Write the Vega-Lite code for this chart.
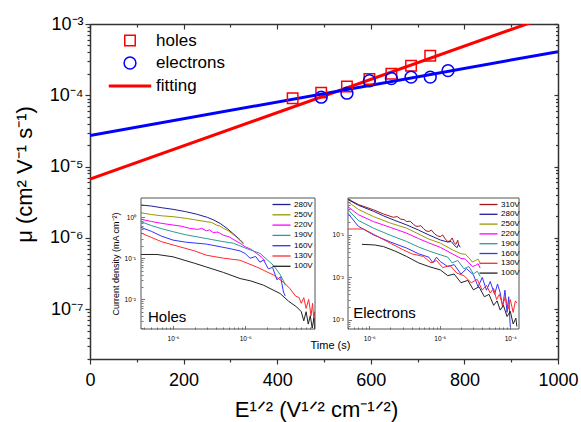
{
  "$schema": "https://vega.github.io/schema/vega-lite/v6.json",
  "width": 468,
  "height": 335,
  "autosize": "none",
  "padding": {"left": 90, "top": 24, "right": 23, "bottom": 63},
  "background": "white",
  "config": {
    "font": "Liberation Sans",
    "view": {"stroke": null},
    "axis": {"grid": false, "labelFont": "Liberation Sans", "titleFont": "Liberation Sans", "labelColor": "#000", "titleColor": "#000", "domainColor": "#333", "tickColor": "#333"}
  },
  "datasets": {
    "fit": [
      {"s": "holes", "x": 0, "y": 6.7e-6},
      {"s": "holes", "x": 1000, "y": 1.43e-3},
      {"s": "electrons", "x": 0, "y": 2.72e-5},
      {"s": "electrons", "x": 1000, "y": 4.1e-4}
    ],
    "mob": [
      {"s": "holes", "x": 433, "y": 9.1e-5},
      {"s": "holes", "x": 494, "y": 1.09e-4},
      {"s": "holes", "x": 549, "y": 1.33e-4},
      {"s": "holes", "x": 597, "y": 1.69e-4},
      {"s": "holes", "x": 644, "y": 2.0e-4},
      {"s": "holes", "x": 686, "y": 2.59e-4},
      {"s": "holes", "x": 727, "y": 3.6e-4},
      {"s": "electrons", "x": 494, "y": 9.4e-5},
      {"s": "electrons", "x": 549, "y": 1.07e-4},
      {"s": "electrons", "x": 597, "y": 1.6e-4},
      {"s": "electrons", "x": 644, "y": 1.72e-4},
      {"s": "electrons", "x": 686, "y": 1.8e-4},
      {"s": "electrons", "x": 727, "y": 1.8e-4},
      {"s": "electrons", "x": 765, "y": 2.22e-4}
    ],
    "holes": [
      {"v": "280V", "t": 3.6e-7, "j": 1.96}, {"v": "280V", "t": 5e-7, "j": 1.85}, {"v": "280V", "t": 7e-7, "j": 1.68}, {"v": "280V", "t": 1e-6, "j": 1.54}, {"v": "280V", "t": 1.5e-6, "j": 1.35}, {"v": "280V", "t": 2.1e-6, "j": 1.18}, {"v": "280V", "t": 3e-6, "j": 0.98}, {"v": "280V", "t": 3.6e-6, "j": 0.86}, {"v": "280V", "t": 4.5e-6, "j": 0.7}, {"v": "280V", "t": 5.6e-6, "j": 0.53}, {"v": "280V", "t": 7e-6, "j": 0.38}, {"v": "280V", "t": 8.5e-6, "j": 0.28}, {"v": "280V", "t": 9.5e-6, "j": 0.23},
      {"v": "250V", "t": 3.6e-7, "j": 1.27}, {"v": "250V", "t": 5e-7, "j": 1.15}, {"v": "250V", "t": 7e-7, "j": 1.07}, {"v": "250V", "t": 1e-6, "j": 1.02}, {"v": "250V", "t": 1.5e-6, "j": 0.93}, {"v": "250V", "t": 2e-6, "j": 0.86}, {"v": "250V", "t": 2.9e-6, "j": 0.77}, {"v": "250V", "t": 3.4e-6, "j": 0.74}, {"v": "250V", "t": 4e-6, "j": 0.64}, {"v": "250V", "t": 4.5e-6, "j": 0.6}, {"v": "250V", "t": 5e-6, "j": 0.53}, {"v": "250V", "t": 5.8e-6, "j": 0.47}, {"v": "250V", "t": 6.5e-6, "j": 0.4}, {"v": "250V", "t": 7.5e-6, "j": 0.33}, {"v": "250V", "t": 8.5e-6, "j": 0.27}, {"v": "250V", "t": 9.5e-6, "j": 0.22},
      {"v": "220V", "t": 3.6e-7, "j": 0.88}, {"v": "220V", "t": 5e-7, "j": 0.78}, {"v": "220V", "t": 7e-7, "j": 0.7}, {"v": "220V", "t": 1e-6, "j": 0.64}, {"v": "220V", "t": 1.3e-6, "j": 0.6}, {"v": "220V", "t": 1.7e-6, "j": 0.53}, {"v": "220V", "t": 2.2e-6, "j": 0.5}, {"v": "220V", "t": 2.5e-6, "j": 0.53}, {"v": "220V", "t": 2.9e-6, "j": 0.46}, {"v": "220V", "t": 3.2e-6, "j": 0.49}, {"v": "220V", "t": 3.6e-6, "j": 0.42}, {"v": "220V", "t": 4.2e-6, "j": 0.43}, {"v": "220V", "t": 5e-6, "j": 0.36}, {"v": "220V", "t": 6e-6, "j": 0.33}, {"v": "220V", "t": 7e-6, "j": 0.28}, {"v": "220V", "t": 8.5e-6, "j": 0.23}, {"v": "220V", "t": 1e-5, "j": 0.19}, {"v": "220V", "t": 1.2e-5, "j": 0.165}, {"v": "220V", "t": 1.45e-5, "j": 0.13}, {"v": "220V", "t": 1.7e-5, "j": 0.105}, {"v": "220V", "t": 1.9e-5, "j": 0.085},
      {"v": "190V", "t": 3.6e-7, "j": 0.77}, {"v": "190V", "t": 5e-7, "j": 0.62}, {"v": "190V", "t": 7e-7, "j": 0.52}, {"v": "190V", "t": 1e-6, "j": 0.44}, {"v": "190V", "t": 1.5e-6, "j": 0.37}, {"v": "190V", "t": 2.9e-6, "j": 0.3}, {"v": "190V", "t": 4.5e-6, "j": 0.26}, {"v": "190V", "t": 6.9e-6, "j": 0.23}, {"v": "190V", "t": 1.06e-5, "j": 0.17}, {"v": "190V", "t": 1.62e-5, "j": 0.13}, {"v": "190V", "t": 2.47e-5, "j": 0.067}, {"v": "190V", "t": 3.06e-5, "j": 0.04}, {"v": "190V", "t": 3.4e-5, "j": 0.028}, {"v": "190V", "t": 3.6e-5, "j": 0.022},
      {"v": "160V", "t": 3.6e-7, "j": 0.56}, {"v": "160V", "t": 5e-7, "j": 0.45}, {"v": "160V", "t": 7e-7, "j": 0.34}, {"v": "160V", "t": 1e-6, "j": 0.275}, {"v": "160V", "t": 1.5e-6, "j": 0.245}, {"v": "160V", "t": 2.9e-6, "j": 0.22}, {"v": "160V", "t": 4.5e-6, "j": 0.19}, {"v": "160V", "t": 6.2e-6, "j": 0.17}, {"v": "160V", "t": 8.5e-6, "j": 0.15}, {"v": "160V", "t": 1e-5, "j": 0.13}, {"v": "160V", "t": 1.17e-5, "j": 0.1}, {"v": "160V", "t": 1.4e-5, "j": 0.11}, {"v": "160V", "t": 1.6e-5, "j": 0.08}, {"v": "160V", "t": 1.8e-5, "j": 0.09}, {"v": "160V", "t": 2.1e-5, "j": 0.055}, {"v": "160V", "t": 2.4e-5, "j": 0.06}, {"v": "160V", "t": 2.75e-5, "j": 0.03}, {"v": "160V", "t": 3.1e-5, "j": 0.035}, {"v": "160V", "t": 3.4e-5, "j": 0.015}, {"v": "160V", "t": 3.6e-5, "j": 0.012},
      {"v": "130V", "t": 3.6e-7, "j": 0.41}, {"v": "130V", "t": 5e-7, "j": 0.32}, {"v": "130V", "t": 7e-7, "j": 0.25}, {"v": "130V", "t": 1e-6, "j": 0.21}, {"v": "130V", "t": 2e-6, "j": 0.15}, {"v": "130V", "t": 2.9e-6, "j": 0.118}, {"v": "130V", "t": 5e-6, "j": 0.1}, {"v": "130V", "t": 8.5e-6, "j": 0.089}, {"v": "130V", "t": 1.45e-5, "j": 0.061}, {"v": "130V", "t": 2.47e-5, "j": 0.039}, {"v": "130V", "t": 3.5e-5, "j": 0.025}, {"v": "130V", "t": 4.2e-5, "j": 0.018}, {"v": "130V", "t": 5e-5, "j": 0.012}, {"v": "130V", "t": 5.6e-5, "j": 0.011}, {"v": "130V", "t": 6e-5, "j": 0.008}, {"v": "130V", "t": 6.5e-5, "j": 0.011}, {"v": "130V", "t": 7e-5, "j": 0.006}, {"v": "130V", "t": 7.6e-5, "j": 0.01}, {"v": "130V", "t": 8.2e-5, "j": 0.004}, {"v": "130V", "t": 8.6e-5, "j": 0.008}, {"v": "130V", "t": 9e-5, "j": 0.003}, {"v": "130V", "t": 9.2e-5, "j": 0.005},
      {"v": "100V", "t": 3.6e-7, "j": 0.123}, {"v": "100V", "t": 6e-7, "j": 0.123}, {"v": "100V", "t": 1e-6, "j": 0.108}, {"v": "100V", "t": 2e-6, "j": 0.075}, {"v": "100V", "t": 2.9e-6, "j": 0.061}, {"v": "100V", "t": 5e-6, "j": 0.045}, {"v": "100V", "t": 8.5e-6, "j": 0.032}, {"v": "100V", "t": 1.2e-5, "j": 0.028}, {"v": "100V", "t": 1.8e-5, "j": 0.022}, {"v": "100V", "t": 3.06e-5, "j": 0.0138}, {"v": "100V", "t": 4e-5, "j": 0.009}, {"v": "100V", "t": 5.2e-5, "j": 0.0065}, {"v": "100V", "t": 6e-5, "j": 0.005}, {"v": "100V", "t": 6.5e-5, "j": 0.003}, {"v": "100V", "t": 7e-5, "j": 0.005}, {"v": "100V", "t": 7.5e-5, "j": 0.0025}, {"v": "100V", "t": 8e-5, "j": 0.004}, {"v": "100V", "t": 8.5e-5, "j": 0.002}, {"v": "100V", "t": 9e-5, "j": 0.0035}, {"v": "100V", "t": 9.2e-5, "j": 0.002}
    ],
    "elec": [
      {"v": "310V", "t": 5e-7, "j": 0.7}, {"v": "310V", "t": 7e-7, "j": 0.52}, {"v": "310V", "t": 1.15e-6, "j": 0.39}, {"v": "310V", "t": 1.6e-6, "j": 0.31}, {"v": "310V", "t": 2.2e-6, "j": 0.26}, {"v": "310V", "t": 2.5e-6, "j": 0.27}, {"v": "310V", "t": 2.8e-6, "j": 0.235}, {"v": "310V", "t": 3.1e-6, "j": 0.23}, {"v": "310V", "t": 3.4e-6, "j": 0.206}, {"v": "310V", "t": 3.8e-6, "j": 0.21}, {"v": "310V", "t": 4.2e-6, "j": 0.18}, {"v": "310V", "t": 4.6e-6, "j": 0.16}, {"v": "310V", "t": 5e-6, "j": 0.16}, {"v": "310V", "t": 5.4e-6, "j": 0.165}, {"v": "310V", "t": 5.9e-6, "j": 0.14}, {"v": "310V", "t": 6.4e-6, "j": 0.125}, {"v": "310V", "t": 7e-6, "j": 0.12}, {"v": "310V", "t": 7.6e-6, "j": 0.13}, {"v": "310V", "t": 8.5e-6, "j": 0.105}, {"v": "310V", "t": 9.3e-6, "j": 0.095}, {"v": "310V", "t": 1.02e-5, "j": 0.091}, {"v": "310V", "t": 1.1e-5, "j": 0.1}, {"v": "310V", "t": 1.2e-5, "j": 0.08}, {"v": "310V", "t": 1.3e-5, "j": 0.07}, {"v": "310V", "t": 1.4e-5, "j": 0.072}, {"v": "310V", "t": 1.5e-5, "j": 0.085}, {"v": "310V", "t": 1.6e-5, "j": 0.065}, {"v": "310V", "t": 1.7e-5, "j": 0.06}, {"v": "310V", "t": 1.8e-5, "j": 0.075}, {"v": "310V", "t": 1.85e-5, "j": 0.058},
      {"v": "280V", "t": 5e-7, "j": 0.68}, {"v": "280V", "t": 7e-7, "j": 0.5}, {"v": "280V", "t": 1.15e-6, "j": 0.36}, {"v": "280V", "t": 1.6e-6, "j": 0.28}, {"v": "280V", "t": 2.3e-6, "j": 0.22}, {"v": "280V", "t": 3.4e-6, "j": 0.172}, {"v": "280V", "t": 5e-6, "j": 0.13}, {"v": "280V", "t": 7e-6, "j": 0.1}, {"v": "280V", "t": 1.02e-5, "j": 0.076}, {"v": "280V", "t": 1.3e-5, "j": 0.068}, {"v": "280V", "t": 1.45e-5, "j": 0.07}, {"v": "280V", "t": 1.6e-5, "j": 0.058}, {"v": "280V", "t": 1.75e-5, "j": 0.05}, {"v": "280V", "t": 1.85e-5, "j": 0.06}, {"v": "280V", "t": 1.95e-5, "j": 0.051},
      {"v": "250V", "t": 5e-7, "j": 0.6}, {"v": "250V", "t": 7e-7, "j": 0.4}, {"v": "250V", "t": 1.15e-6, "j": 0.27}, {"v": "250V", "t": 2e-6, "j": 0.19}, {"v": "250V", "t": 3.4e-6, "j": 0.144}, {"v": "250V", "t": 5e-6, "j": 0.105}, {"v": "250V", "t": 7e-6, "j": 0.08}, {"v": "250V", "t": 1.02e-5, "j": 0.064}, {"v": "250V", "t": 1.5e-5, "j": 0.045}, {"v": "250V", "t": 2e-5, "j": 0.036}, {"v": "250V", "t": 2.3e-5, "j": 0.035}, {"v": "250V", "t": 2.6e-5, "j": 0.029}, {"v": "250V", "t": 2.9e-5, "j": 0.023}, {"v": "250V", "t": 3.2e-5, "j": 0.025}, {"v": "250V", "t": 3.5e-5, "j": 0.027}, {"v": "250V", "t": 3.75e-5, "j": 0.0215},
      {"v": "220V", "t": 5e-7, "j": 0.46}, {"v": "220V", "t": 7e-7, "j": 0.3}, {"v": "220V", "t": 1.15e-6, "j": 0.206}, {"v": "220V", "t": 2e-6, "j": 0.15}, {"v": "220V", "t": 3.4e-6, "j": 0.11}, {"v": "220V", "t": 5e-6, "j": 0.082}, {"v": "220V", "t": 7e-6, "j": 0.065}, {"v": "220V", "t": 1.02e-5, "j": 0.051}, {"v": "220V", "t": 1.5e-5, "j": 0.036}, {"v": "220V", "t": 2e-5, "j": 0.028}, {"v": "220V", "t": 2.3e-5, "j": 0.027}, {"v": "220V", "t": 2.6e-5, "j": 0.022}, {"v": "220V", "t": 2.9e-5, "j": 0.018}, {"v": "220V", "t": 3.2e-5, "j": 0.019}, {"v": "220V", "t": 3.5e-5, "j": 0.021}, {"v": "220V", "t": 3.75e-5, "j": 0.0166},
      {"v": "190V", "t": 5e-7, "j": 0.39}, {"v": "190V", "t": 7e-7, "j": 0.22}, {"v": "190V", "t": 1.15e-6, "j": 0.144}, {"v": "190V", "t": 2e-6, "j": 0.098}, {"v": "190V", "t": 3.4e-6, "j": 0.07}, {"v": "190V", "t": 5e-6, "j": 0.052}, {"v": "190V", "t": 7e-6, "j": 0.042}, {"v": "190V", "t": 1.02e-5, "j": 0.034}, {"v": "190V", "t": 1.3e-5, "j": 0.03}, {"v": "190V", "t": 1.5e-5, "j": 0.022}, {"v": "190V", "t": 1.8e-5, "j": 0.025}, {"v": "190V", "t": 2.2e-5, "j": 0.016}, {"v": "190V", "t": 2.6e-5, "j": 0.018}, {"v": "190V", "t": 3e-5, "j": 0.012}, {"v": "190V", "t": 3.4e-5, "j": 0.014}, {"v": "190V", "t": 3.75e-5, "j": 0.0105},
      {"v": "160V", "t": 5e-7, "j": 0.32}, {"v": "160V", "t": 7e-7, "j": 0.16}, {"v": "160V", "t": 1.15e-6, "j": 0.1}, {"v": "160V", "t": 2e-6, "j": 0.068}, {"v": "160V", "t": 3.4e-6, "j": 0.049}, {"v": "160V", "t": 5e-6, "j": 0.036}, {"v": "160V", "t": 7e-6, "j": 0.03}, {"v": "160V", "t": 8e-6, "j": 0.022}, {"v": "160V", "t": 9e-6, "j": 0.03}, {"v": "160V", "t": 1.02e-5, "j": 0.0235}, {"v": "160V", "t": 1.3e-5, "j": 0.018}, {"v": "160V", "t": 1.6e-5, "j": 0.02}, {"v": "160V", "t": 2e-5, "j": 0.012}, {"v": "160V", "t": 2.4e-5, "j": 0.016}, {"v": "160V", "t": 3e-5, "j": 0.0115}, {"v": "160V", "t": 3.5e-5, "j": 0.006}, {"v": "160V", "t": 4e-5, "j": 0.01}, {"v": "160V", "t": 4.6e-5, "j": 0.005}, {"v": "160V", "t": 5.2e-5, "j": 0.008}, {"v": "160V", "t": 6e-5, "j": 0.004}, {"v": "160V", "t": 6.6e-5, "j": 0.007}, {"v": "160V", "t": 7.2e-5, "j": 0.0043}, {"v": "160V", "t": 7.8e-5, "j": 0.002}, {"v": "160V", "t": 8.4e-5, "j": 0.005}, {"v": "160V", "t": 9e-5, "j": 0.0015}, {"v": "160V", "t": 9.5e-5, "j": 0.0035}, {"v": "160V", "t": 1e-4, "j": 0.0007},
      {"v": "130V", "t": 5e-7, "j": 0.138}, {"v": "130V", "t": 8.3e-7, "j": 0.138}, {"v": "130V", "t": 1.2e-6, "j": 0.1}, {"v": "130V", "t": 1.99e-6, "j": 0.064}, {"v": "130V", "t": 3e-6, "j": 0.045}, {"v": "130V", "t": 4e-6, "j": 0.036}, {"v": "130V", "t": 5.9e-6, "j": 0.031}, {"v": "130V", "t": 7.5e-6, "j": 0.022}, {"v": "130V", "t": 9e-6, "j": 0.025}, {"v": "130V", "t": 1.1e-5, "j": 0.017}, {"v": "130V", "t": 1.4e-5, "j": 0.019}, {"v": "130V", "t": 1.75e-5, "j": 0.0126}, {"v": "130V", "t": 2.2e-5, "j": 0.011}, {"v": "130V", "t": 2.8e-5, "j": 0.0075}, {"v": "130V", "t": 3.4e-5, "j": 0.009}, {"v": "130V", "t": 4e-5, "j": 0.005}, {"v": "130V", "t": 4.6e-5, "j": 0.0065}, {"v": "130V", "t": 5.2e-5, "j": 0.0043}, {"v": "130V", "t": 5.8e-5, "j": 0.0055}, {"v": "130V", "t": 6.4e-5, "j": 0.003}, {"v": "130V", "t": 7e-5, "j": 0.004}, {"v": "130V", "t": 7.8e-5, "j": 0.0022}, {"v": "130V", "t": 8.5e-5, "j": 0.0035}, {"v": "130V", "t": 9.3e-5, "j": 0.0018}, {"v": "130V", "t": 1e-4, "j": 0.003}, {"v": "130V", "t": 1.1e-4, "j": 0.0015}, {"v": "130V", "t": 1.18e-4, "j": 0.0028}, {"v": "130V", "t": 1.24e-4, "j": 0.0025},
      {"v": "100V", "t": 7.9e-7, "j": 0.06}, {"v": "100V", "t": 1.2e-6, "j": 0.058}, {"v": "100V", "t": 1.6e-6, "j": 0.053}, {"v": "100V", "t": 2.3e-6, "j": 0.042}, {"v": "100V", "t": 3.4e-6, "j": 0.031}, {"v": "100V", "t": 5e-6, "j": 0.022}, {"v": "100V", "t": 7e-6, "j": 0.018}, {"v": "100V", "t": 1.02e-5, "j": 0.015}, {"v": "100V", "t": 1.3e-5, "j": 0.011}, {"v": "100V", "t": 1.6e-5, "j": 0.012}, {"v": "100V", "t": 2e-5, "j": 0.0075}, {"v": "100V", "t": 2.5e-5, "j": 0.0085}, {"v": "100V", "t": 3e-5, "j": 0.0051}, {"v": "100V", "t": 3.6e-5, "j": 0.006}, {"v": "100V", "t": 4.3e-5, "j": 0.0035}, {"v": "100V", "t": 5e-5, "j": 0.004}, {"v": "100V", "t": 5.8e-5, "j": 0.0022}, {"v": "100V", "t": 6.5e-5, "j": 0.0028}, {"v": "100V", "t": 7.2e-5, "j": 0.0017}, {"v": "100V", "t": 8e-5, "j": 0.0022}, {"v": "100V", "t": 9e-5, "j": 0.0012}, {"v": "100V", "t": 1e-4, "j": 0.0016}, {"v": "100V", "t": 1.1e-4, "j": 0.0008}, {"v": "100V", "t": 1.2e-4, "j": 0.0011}, {"v": "100V", "t": 1.24e-4, "j": 0.0007}
    ]
  },
  "layer": [
    {
      "layer": [
        {
          "data": {"name": "fit"},
          "mark": {"type": "line", "clip": true, "strokeWidth": 3},
          "encoding": {
            "x": {"field": "x", "type": "quantitative", "scale": {"domain": [0, 1000], "nice": false, "zero": false},
              "axis": {"orient": "bottom", "values": [0, 100, 200, 300, 400, 500, 600, 700, 800, 900, 1000],
                "labelExpr": "datum.value % 200 == 0 ? '' + datum.value : ''",
                "tickSize": {"condition": {"test": "datum.value % 200 == 0", "value": 5}, "value": 3},
                "labelFontSize": 18, "labelPadding": 7, "labelFlush": false, "labelOverlap": false,
                "domainWidth": 1.5, "tickWidth": 1.2,
                "title": "E¹ᐟ² (V¹ᐟ² cm⁻¹ᐟ²)", "titleFontSize": 22, "titleFontWeight": "normal", "titlePadding": 10, "titleX": 226}},
            "y": {"field": "y", "type": "quantitative", "scale": {"type": "log", "domain": [2e-8, 1e-3], "nice": false},
              "axis": {"orient": "left",
                "values": [2e-8, 3e-8, 4e-8, 5e-8, 6e-8, 7e-8, 8e-8, 9e-8, 1e-7, 2e-7, 3e-7, 4e-7, 5e-7, 6e-7, 7e-7, 8e-7, 9e-7, 1e-6, 2e-6, 3e-6, 4e-6, 5e-6, 6e-6, 7e-6, 8e-6, 9e-6, 1e-5, 2e-5, 3e-5, 4e-5, 5e-5, 6e-5, 7e-5, 8e-5, 9e-5, 1e-4, 2e-4, 3e-4, 4e-4, 5e-4, 6e-4, 7e-4, 8e-4, 9e-4, 1e-3],
                "labelExpr": "abs(log(datum.value)/LN10-round(log(datum.value)/LN10))<0.01 ? '10'+['⁻⁸','⁻⁷','⁻⁶','⁻⁵','⁻⁴','⁻³','⁻²','⁻¹','⁰'][round(log(datum.value)/LN10)+8] : ''",
                "tickSize": {"condition": {"test": "abs(log(datum.value)/LN10-round(log(datum.value)/LN10))<0.01", "value": 5}, "value": 3},
                "labelFontSize": 18, "labelPadding": 2, "labelOverlap": false, "labelFlush": false,
                "domainWidth": 1.5, "tickWidth": 1.2,
                "title": "μ (cm² V⁻¹ s⁻¹)", "titleFontSize": 22, "titleFontWeight": "normal", "titlePadding": 13, "titleY": 150}},
            "stroke": {"field": "s", "type": "nominal", "scale": {"domain": ["holes", "electrons"], "range": ["#ff0000", "#0000ff"]}, "legend": null}
          }
        },
        {
          "data": {"name": "mob"},
          "mark": {"type": "point", "filled": false, "opacity": 1},
          "encoding": {
            "x": {"field": "x", "type": "quantitative",
              "axis": {"orient": "top", "values": [0, 100, 200, 300, 400, 500, 600, 700, 800, 900, 1000], "labels": false, "title": null,
                "tickSize": {"condition": {"test": "datum.value % 200 == 0", "value": -5}, "value": -3}, "domainWidth": 1.5, "tickWidth": 1.2}},
            "y": {"field": "y", "type": "quantitative",
              "axis": {"orient": "right",
                "values": [2e-8, 3e-8, 4e-8, 5e-8, 6e-8, 7e-8, 8e-8, 9e-8, 1e-7, 2e-7, 3e-7, 4e-7, 5e-7, 6e-7, 7e-7, 8e-7, 9e-7, 1e-6, 2e-6, 3e-6, 4e-6, 5e-6, 6e-6, 7e-6, 8e-6, 9e-6, 1e-5, 2e-5, 3e-5, 4e-5, 5e-5, 6e-5, 7e-5, 8e-5, 9e-5, 1e-4, 2e-4, 3e-4, 4e-4, 5e-4, 6e-4, 7e-4, 8e-4, 9e-4, 1e-3],
                "labels": false, "title": null,
                "tickSize": {"condition": {"test": "abs(log(datum.value)/LN10-round(log(datum.value)/LN10))<0.01", "value": -4}, "value": -2.5},
                "domainWidth": 1.5, "tickWidth": 1.2}},
            "color": {"field": "s", "type": "nominal", "scale": {"domain": ["holes", "electrons", "fitting"], "range": ["#ff0000", "#0000ff", "#ff0000"]},
              "legend": {"title": null, "orient": "none", "legendX": 31, "legendY": 8, "labelFontSize": 17, "labelFont": "Liberation Sans", "labelColor": "#000", "rowPadding": 4.5, "labelOffset": 17}},
            "shape": {"field": "s", "type": "nominal", "scale": {"domain": ["holes", "electrons", "fitting"], "range": ["square", "circle", "M-3,0H3"]},
              "legend": {"title": null, "orient": "none", "legendX": 31, "legendY": 8, "labelFontSize": 17, "labelFont": "Liberation Sans", "labelColor": "#000", "rowPadding": 4.5, "labelOffset": 17}},
            "size": {"field": "s", "type": "nominal", "scale": {"type": "ordinal", "domain": ["holes", "electrons", "fitting"], "range": [110, 140, 200]},
              "legend": {"title": null, "orient": "none", "legendX": 31, "legendY": 8, "labelFontSize": 17, "labelFont": "Liberation Sans", "labelColor": "#000", "rowPadding": 4.5, "labelOffset": 17}},
            "strokeWidth": {"field": "s", "type": "nominal", "scale": {"type": "ordinal", "domain": ["holes", "electrons", "fitting"], "range": [1.5, 1.5, 3]},
              "legend": {"title": null, "orient": "none", "legendX": 31, "legendY": 8, "labelFontSize": 17, "labelFont": "Liberation Sans", "labelColor": "#000", "rowPadding": 4.5, "labelOffset": 17}}
          }
        }
      ]
    },
    {
      "layer": [
        {
          "data": {"name": "holes"},
          "mark": {"type": "line", "strokeWidth": 1, "clip": true},
          "encoding": {
            "x": {"field": "t", "type": "quantitative", "scale": {"type": "log", "domain": [3.6e-7, 9.3e-5], "range": [51, 225], "nice": false},
              "axis": {"orient": "bottom", "offset": -30,
                "values": [4e-7, 5e-7, 6e-7, 7e-7, 8e-7, 9e-7, 1e-6, 2e-6, 3e-6, 4e-6, 5e-6, 6e-6, 7e-6, 8e-6, 9e-6, 1e-5, 2e-5, 3e-5, 4e-5, 5e-5, 6e-5, 7e-5, 8e-5, 9e-5],
                "labelExpr": "abs(log(datum.value)/LN10-round(log(datum.value)/LN10))<0.01 ? '10'+['⁻⁸','⁻⁷','⁻⁶','⁻⁵','⁻⁴','⁻³','⁻²','⁻¹','⁰'][round(log(datum.value)/LN10)+8] : ''",
                "tickSize": {"condition": {"test": "abs(log(datum.value)/LN10-round(log(datum.value)/LN10))<0.01", "value": -3.5}, "value": -2},
                "labelFontSize": 6.5, "labelPadding": 10, "labelOverlap": false, "labelFlush": false, "domain": false, "tickColor": "#555", "tickWidth": 0.8, "title": null}},
            "y": {"field": "j", "type": "quantitative", "scale": {"type": "log", "domain": [1.9e-3, 2.9], "range": [305, 174], "nice": false},
              "axis": {"orient": "left", "offset": -51,
                "values": [2e-3, 3e-3, 4e-3, 5e-3, 6e-3, 7e-3, 8e-3, 9e-3, 1e-2, 2e-2, 3e-2, 4e-2, 5e-2, 6e-2, 7e-2, 8e-2, 9e-2, 0.1, 0.2, 0.3, 0.4, 0.5, 0.6, 0.7, 0.8, 0.9, 1, 2],
                "labelExpr": "abs(log(datum.value)/LN10-round(log(datum.value)/LN10))<0.01 ? '10'+['⁻⁸','⁻⁷','⁻⁶','⁻⁵','⁻⁴','⁻³','⁻²','⁻¹','⁰'][round(log(datum.value)/LN10)+8] : ''",
                "tickSize": {"condition": {"test": "abs(log(datum.value)/LN10-round(log(datum.value)/LN10))<0.01", "value": -3.5}, "value": -2},
                "labelFontSize": 6.5, "labelPadding": 9, "labelOverlap": false, "labelFlush": false, "domain": false, "tickColor": "#555", "tickWidth": 0.8,
                "title": "Current density (mA cm⁻²)", "titleFontSize": 9, "titleFontWeight": "normal", "titlePadding": 4}},
            "color": {"field": "v", "type": "nominal",
              "scale": {"domain": ["280V", "250V", "220V", "190V", "160V", "130V", "100V"], "range": ["#1f1f99", "#999900", "#ff00ff", "#2b9c94", "#3333ff", "#ff2a2a", "#222222"]},
              "legend": {"title": null, "orient": "none", "legendX": 187, "legendY": 176, "symbolType": "M-2.5,0H2.5", "symbolSize": 52, "symbolStrokeWidth": 1.3, "labelFontSize": 8, "labelOffset": 8, "rowPadding": 1.3, "labelColor": "#000"}}
          }
        },
        {
          "data": {"values": [{}]},
          "mark": {"type": "rect", "fillOpacity": 0, "stroke": "#555", "strokeWidth": 1},
          "encoding": {
            "x": {"datum": 3.6e-7, "type": "quantitative"},
            "x2": {"datum": 9.3e-5},
            "y": {"datum": 1.9e-3, "type": "quantitative"},
            "y2": {"datum": 2.9}
          }
        },
        {
          "data": {"values": [{}]},
          "mark": {"type": "text", "text": "Holes", "align": "left", "baseline": "alphabetic", "fontSize": 15, "color": "#000"},
          "encoding": {
            "x": {"datum": 4.5e-7, "type": "quantitative"},
            "y": {"datum": 0.00275, "type": "quantitative"}
          }
        }
      ]
    },
    {
      "layer": [
        {
          "data": {"name": "elec"},
          "mark": {"type": "line", "strokeWidth": 1, "clip": true},
          "encoding": {
            "x": {"field": "t", "type": "quantitative", "scale": {"type": "log", "domain": [5e-7, 1.33e-4], "range": [258, 429], "nice": false},
              "axis": {"orient": "bottom", "offset": -30,
                "values": [5e-7, 6e-7, 7e-7, 8e-7, 9e-7, 1e-6, 2e-6, 3e-6, 4e-6, 5e-6, 6e-6, 7e-6, 8e-6, 9e-6, 1e-5, 2e-5, 3e-5, 4e-5, 5e-5, 6e-5, 7e-5, 8e-5, 9e-5, 1e-4],
                "labelExpr": "abs(log(datum.value)/LN10-round(log(datum.value)/LN10))<0.01 ? '10'+['⁻⁸','⁻⁷','⁻⁶','⁻⁵','⁻⁴','⁻³','⁻²','⁻¹','⁰'][round(log(datum.value)/LN10)+8] : ''",
                "tickSize": {"condition": {"test": "abs(log(datum.value)/LN10-round(log(datum.value)/LN10))<0.01", "value": -3.5}, "value": -2},
                "labelFontSize": 6.5, "labelPadding": 10, "labelOverlap": false, "labelFlush": false, "domain": false, "tickColor": "#555", "tickWidth": 0.8,
                "title": "Time (s)", "titleFontSize": 11, "titleFontWeight": "normal", "titleX": 220, "titleY": 19, "titleAlign": "left", "titleBaseline": "alphabetic", "titleAngle": 0}},
            "y": {"field": "j", "type": "quantitative", "scale": {"type": "log", "domain": [6.1e-4, 0.74], "range": [305, 174], "nice": false},
              "axis": {"orient": "left", "offset": -258,
                "values": [7e-4, 8e-4, 9e-4, 1e-3, 2e-3, 3e-3, 4e-3, 5e-3, 6e-3, 7e-3, 8e-3, 9e-3, 1e-2, 2e-2, 3e-2, 4e-2, 5e-2, 6e-2, 7e-2, 8e-2, 9e-2, 0.1, 0.2, 0.3, 0.4, 0.5, 0.6, 0.7],
                "labelExpr": "abs(log(datum.value)/LN10-round(log(datum.value)/LN10))<0.01 ? '10'+['⁻⁸','⁻⁷','⁻⁶','⁻⁵','⁻⁴','⁻³','⁻²','⁻¹','⁰'][round(log(datum.value)/LN10)+8] : ''",
                "tickSize": {"condition": {"test": "abs(log(datum.value)/LN10-round(log(datum.value)/LN10))<0.01", "value": -3.5}, "value": -2},
                "labelFontSize": 6.5, "labelPadding": 8, "labelOverlap": false, "labelFlush": false, "domain": false, "tickColor": "#555", "tickWidth": 0.8, "title": null}},
            "color": {"field": "v", "type": "nominal",
              "scale": {"domain": ["310V", "280V", "250V", "220V", "190V", "160V", "130V", "100V"], "range": ["#a8141e", "#1f1f99", "#999900", "#ff00ff", "#2b9c94", "#3333ff", "#ff2a2a", "#222222"]},
              "legend": {"title": null, "orient": "none", "legendX": 394, "legendY": 176, "symbolType": "M-2.5,0H2.5", "symbolSize": 52, "symbolStrokeWidth": 1.3, "labelFontSize": 8, "labelOffset": 8, "rowPadding": 0.8, "labelColor": "#000"}}
          }
        },
        {
          "data": {"values": [{}]},
          "mark": {"type": "rect", "fillOpacity": 0, "stroke": "#555", "strokeWidth": 1},
          "encoding": {
            "x": {"datum": 5e-7, "type": "quantitative"},
            "x2": {"datum": 1.33e-4},
            "y": {"datum": 6.1e-4, "type": "quantitative"},
            "y2": {"datum": 0.74}
          }
        },
        {
          "data": {"values": [{}]},
          "mark": {"type": "text", "text": "Electrons", "align": "left", "baseline": "alphabetic", "fontSize": 15, "color": "#000"},
          "encoding": {
            "x": {"datum": 5.93e-7, "type": "quantitative"},
            "y": {"datum": 0.00111, "type": "quantitative"}
          }
        }
      ]
    }
  ],
  "resolve": {"scale": {"x": "independent", "y": "independent", "color": "independent", "stroke": "independent", "shape": "independent", "size": "independent", "strokeWidth": "independent"}}
}
